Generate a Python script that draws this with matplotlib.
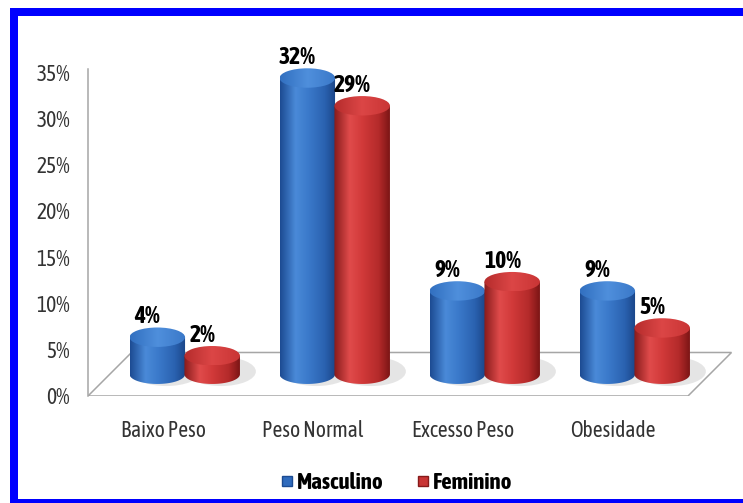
import numpy as np
import matplotlib
matplotlib.use("Agg")
import matplotlib.pyplot as plt
from matplotlib.patches import Polygon, Rectangle, Ellipse
from matplotlib.colors import LinearSegmentedColormap
from matplotlib.lines import Line2D

categories = ["Baixo Peso", "Peso Normal", "Excesso Peso", "Obesidade"]
masculino = [4, 32, 9, 9]
feminino = [2, 29, 10, 5]
series_names = ["Masculino", "Feminino"]
yticks = [0, 5, 10, 15, 20, 25, 30, 35]
ytick_labels = ["0%", "5%", "10%", "15%", "20%", "25%", "30%", "35%"]

FONT = ["Asap Condensed", "DejaVu Sans"]
plt.rcParams["font.family"] = FONT

W, H = 743, 503
fig = plt.figure(figsize=(W / 100, H / 100), dpi=100)
fig.patch.set_facecolor("white")

px_per_cat = 150.0
px_per_unit = 9.257
x_left, x_right = -0.5, 3.85
y_bot, y_top = 0, 40
ax_left_px = 88
ax_bot_px = 396
ax = fig.add_axes([ax_left_px / W, (H - ax_bot_px) / H,
                   (x_right - x_left) * px_per_cat / W,
                   (y_top - y_bot) * px_per_unit / H])
ax.set_xlim(x_left, x_right)
ax.set_ylim(y_bot, y_top)
ax.set_facecolor("none")

# floor
d_x, d_y = 0.29, 4.7
floor = Polygon([(-0.5, 0), (3.5, 0), (3.5 + d_x, d_y), (-0.5 + d_x, d_y)],
                closed=True, facecolor="white", edgecolor="#a6a6a6", lw=1.1, zorder=1)
ax.add_patch(floor)

blue_cmap = LinearSegmentedColormap.from_list(
    "b", [(0, "#1c4b92"), (0.28, "#4a8ad8"), (0.5, "#3b7acb"), (0.8, "#2a62b0"), (1, "#1a4588")])
red_cmap = LinearSegmentedColormap.from_list(
    "r", [(0, "#861a1a"), (0.28, "#e04b4b"), (0.5, "#d23a3a"), (0.8, "#b42a2a"), (1, "#7c1515")])
blue_top = LinearSegmentedColormap.from_list("bt", ["#3270c0", "#4f8fdc", "#3a78c8"])
red_top = LinearSegmentedColormap.from_list("rt", ["#b52c2c", "#dc4646", "#c93535"])

cyl_w = 0.37
ell_h = 2.1
y0 = d_y / 2
grad = np.linspace(0, 1, 256).reshape(1, -1)


def cylinder(cx, h, cmap, tcmap, z):
    hw = cyl_w / 2
    t = np.linspace(np.pi, 2 * np.pi, 60)
    bottom = np.column_stack([cx + hw * np.cos(t), y0 + ell_h / 2 * np.sin(t)])
    pts = np.vstack([bottom, [[cx + hw, y0 + h], [cx - hw, y0 + h]]])
    sh = Ellipse((cx + 0.06, y0 + 0.3), cyl_w * 1.25, ell_h * 1.5, facecolor="#9a9a9a",
                 alpha=0.25, edgecolor="none", zorder=z - 0.5)
    ax.add_patch(sh)
    body = Polygon(pts, closed=True, facecolor="none", edgecolor="none", zorder=z)
    ax.add_patch(body)
    im = ax.imshow(grad, cmap=cmap, extent=(cx - hw, cx + hw, y0 - ell_h / 2, y0 + h),
                   aspect="auto", interpolation="bilinear", zorder=z, origin="lower")
    im.set_clip_path(body)
    top = Ellipse((cx, y0 + h), cyl_w, ell_h, facecolor="none", edgecolor="none", zorder=z + 0.1)
    ax.add_patch(top)
    im2 = ax.imshow(grad, cmap=tcmap,
                    extent=(cx - hw, cx + hw, y0 + h - ell_h / 2, y0 + h + ell_h / 2),
                    aspect="auto", interpolation="bilinear", zorder=z + 0.1, origin="lower")
    im2.set_clip_path(top)


off = 0.183
for i, (m, f) in enumerate(zip(masculino, feminino)):
    mid = i + d_x / 2
    cylinder(mid - off, m, blue_cmap, blue_top, 3 + i)
    cylinder(mid + off, f, red_cmap, red_top, 3.2 + i)
    ax.text(mid - off - 0.065, y0 + m + ell_h / 2 - 0.1, f"{m}%", ha="center", va="bottom",
            fontsize=17, fontweight="bold", color="black", zorder=10)
    ax.text(mid + off - 0.065, y0 + f + ell_h / 2 - 0.1, f"{f}%", ha="center", va="bottom",
            fontsize=17, fontweight="bold", color="black", zorder=10)

ax.set_xlim(x_left, x_right)
ax.set_ylim(y_bot, y_top)

for s in ["top", "right", "bottom"]:
    ax.spines[s].set_visible(False)
ax.spines["left"].set_bounds(0, 35.3)
ax.spines["left"].set_color("#a6a6a6")
ax.spines["left"].set_linewidth(1.1)

ax.set_yticks(yticks)
ax.set_yticklabels(ytick_labels)
ax.set_xticks(range(len(categories)))
ax.set_xticklabels(categories)
ax.tick_params(axis="y", length=0, pad=13, labelsize=15.5, labelcolor="#333333")
ax.tick_params(axis="x", length=0, pad=17, labelsize=15.5, labelcolor="#333333")

handles = [Line2D([], [], marker="s", linestyle="none", markersize=7.5,
                  markerfacecolor="#2f6bbd", markeredgecolor="#1c4b92"),
           Line2D([], [], marker="s", linestyle="none", markersize=7.5,
                  markerfacecolor="#c83434", markeredgecolor="#861a1a")]
leg = fig.legend(handles, series_names, loc="center", bbox_to_anchor=(396 / W, 1 - 483 / H),
                 ncol=2, frameon=False, handlelength=0.6, handletextpad=0.15,
                 columnspacing=1.4,
                 prop={"family": FONT, "weight": "bold", "size": 16.5})

# blue frame
frame = Rectangle((14 / W, 0.0), (760 - 14) / W, (503 - 12) / H,
                  transform=fig.transFigure, fill=False, edgecolor="#0000ff",
                  linewidth=8 * 0.72, zorder=20)
fig.patches.append(frame)

fig.savefig("out.png", dpi=100)
